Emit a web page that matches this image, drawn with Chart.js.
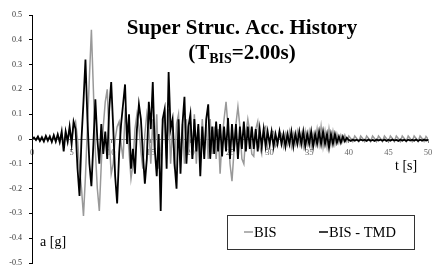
<!DOCTYPE html>
<html lang="en">
<head>
  <meta charset="UTF-8" />
  <title>Super Struc. Acc. History</title>
  <script src="https://cdn.jsdelivr.net/npm/chart.js"></script>
  <style>
    body { margin: 0; background: #fff; }
    .wrap { width: 434px; height: 267px; position: relative; }
  </style>
</head>
<body>
  <div class="wrap"><canvas id="accChart"></canvas></div>

<script>
  // sample spacing of the values below, in seconds
  const DT = 0.25;

  // BIS - TMD (black), one row = 2 s
  const bisTmd = [
    0, 0.006, -0.004, 0.01, -0.008, 0.006, -0.01, 0.012,
    -0.006, 0.01, -0.012, 0.015, -0.01, 0.018, -0.012, 0.03,
    -0.05, 0.03, -0.01, 0.05, -0.02, 0.07, 0.04, -0.12,
    -0.23, 0.0, 0.15, 0.32, 0.08, -0.1, -0.19, -0.02,
    0.16, 0.0, -0.1, 0.06, -0.06, 0.03, -0.08, 0.12,
    0.23, 0.05, -0.15, -0.26, -0.06, 0.06, 0.14, 0.22,
    -0.02, 0.1, -0.12, -0.04, -0.14, 0.04, 0.14, 0.08,
    -0.06, -0.18, -0.08, 0.15, 0.04, 0.23, -0.04, -0.15,
    0.02, -0.29, 0.08, 0.12, -0.12, 0.27, 0.04, 0.08,
    -0.1, -0.2, 0.08, -0.14, 0.06, 0.17, -0.1, 0.05,
    0.1, -0.08, 0.08, -0.05, 0.06, -0.15, 0.05, -0.08,
    0.08, 0.14, -0.08, 0.05, -0.06, 0.07, -0.05, 0.06,
    -0.07, 0.05, -0.05, 0.085, -0.08, 0.06, -0.05, 0.06,
    -0.08, 0.05, -0.04, 0.07, -0.05, 0.05, -0.04, 0.05,
    -0.04, 0.04, -0.05, 0.04, -0.03, 0.04, -0.03, 0.03,
    -0.02, 0.03, -0.03, 0.02, -0.02, 0.03, -0.02, 0.02,
    -0.03, 0.02, -0.02, 0.03, -0.03, 0.02, -0.02, 0.03,
    -0.02, 0.03, -0.03, 0.02, -0.02, 0.03, -0.03, 0.02,
    -0.02, 0.03, -0.02, 0.03, -0.02, 0.02, -0.035, 0.02,
    -0.02, 0.02, -0.015, 0.01, -0.015, 0.01, -0.01, 0.005,
    -0.004, -0.008, -0.002, -0.007, -0.003, -0.008, -0.002, -0.006,
    -0.003, -0.008, -0.002, -0.007, -0.004, -0.008, -0.002, -0.006,
    -0.003, -0.007, -0.002, -0.008, -0.003, -0.007, -0.002, -0.006,
    -0.004, -0.008, -0.002, -0.007, -0.003, -0.008, -0.003, -0.006,
    -0.003, -0.007, -0.002, -0.008, -0.003, -0.007, -0.002, -0.006,
    -0.004
  ];

  // BIS (grey), one row = 2 s
  const bis = [
    0, 0.005, -0.005, 0.008, -0.006, 0.01, -0.008, 0.01,
    -0.01, 0.012, -0.01, 0.015, -0.012, 0.02, -0.015, 0.02,
    -0.02, 0.03, -0.01, 0.04, 0.0, 0.05, 0.07, 0.0,
    -0.12, -0.2, -0.31, -0.15, 0.05, 0.25, 0.44, 0.2,
    -0.05, -0.2, -0.29, -0.1, 0.05, 0.15, 0.2, 0.0,
    -0.14, -0.1, 0.0, 0.05, 0.07, -0.02, -0.08, 0.1,
    0.05, -0.05, -0.16, -0.1, 0.04, 0.1, 0.05, -0.05,
    -0.12, 0.02, 0.1, 0.04, -0.1, 0.08, -0.06, 0.1,
    -0.12, -0.05, 0.06, 0.1, -0.08, 0.12, -0.1, 0.05,
    -0.12, 0.06, 0.1, -0.08, 0.06, -0.1, 0.08, -0.06,
    0.07, -0.08, 0.1, -0.1, 0.05, -0.06, 0.08, -0.05,
    0.06, -0.08, 0.08, -0.06, 0.05, -0.08, 0.04, -0.14,
    0.0, 0.08, 0.15, 0.05, -0.1, -0.17, -0.05, 0.06,
    0.13, 0.05, -0.08, -0.1, 0.02, 0.08, 0.03, -0.06,
    -0.07, 0.04, 0.07, -0.03, -0.06, 0.04, 0.05, -0.04,
    -0.04, 0.03, 0.03, -0.03, -0.02, 0.03, 0.02, -0.03,
    0.02, -0.02, 0.03, -0.03, 0.02, -0.02, 0.03, -0.02,
    0.02, -0.03, 0.03, -0.02, 0.03, -0.03, 0.02, -0.02,
    0.04, -0.02, 0.05, -0.03, 0.03, -0.03, 0.04, -0.02,
    0.03, -0.02, 0.02, -0.015, 0.015, -0.01, 0.015, -0.01,
    0.012, 0.002, -0.01, 0.012, 0.002, -0.01, 0.012, 0.002,
    -0.01, 0.012, 0.002, -0.01, 0.012, 0.002, -0.01, 0.012,
    0.002, -0.01, 0.012, 0.002, -0.01, 0.012, 0.002, -0.01,
    0.012, 0.002, -0.01, 0.012, 0.002, -0.01, 0.012, 0.002,
    -0.01, 0.012, 0.002, -0.01, 0.012, 0.002, -0.01, 0.01,
    0.0
  ];

  const seriesNames = ["BIS", "BIS - TMD"];
  const xTicks = [0, 5, 10, 15, 20, 25, 30, 35, 40, 45, 50];
  const yTicks = [-0.5, -0.4, -0.3, -0.2, -0.1, 0, 0.1, 0.2, 0.3, 0.4, 0.5];

  const toPoints = arr => arr.map((v, i) => ({ x: i * DT, y: v }));
  const SERIF = '"Liberation Serif", "DejaVu Serif", serif';

  // title, axis captions and the boxed legend
  const decorations = {
    id: "decorations",
    afterDraw(chart) {
      const ctx = chart.ctx;
      ctx.save();
      ctx.fillStyle = "#000";
      ctx.textBaseline = "alphabetic";

      ctx.font = "bold 21px " + SERIF;
      ctx.textAlign = "center";
      ctx.fillText("Super Struc. Acc. History", 242, 34);

      // second line with subscript
      const big = "bold 21px " + SERIF, small = "bold 14px " + SERIF;
      ctx.font = big;  const w1 = ctx.measureText("(T").width;
      const w3 = ctx.measureText("=2.00s)").width;
      ctx.font = small; const w2 = ctx.measureText("BIS").width;
      let x = 242 - (w1 + w2 + w3) / 2;
      ctx.textAlign = "left";
      ctx.font = big;   ctx.fillText("(T", x, 59); x += w1;
      ctx.font = small; ctx.fillText("BIS", x, 63); x += w2;
      ctx.font = big;   ctx.fillText("=2.00s)", x, 59);

      ctx.font = "14px " + SERIF;
      ctx.fillText("t [s]", 395, 170);
      ctx.fillText("a [g]", 40, 246);

      // legend
      ctx.fillStyle = "#fff";
      ctx.fillRect(227, 215, 187, 34);
      ctx.strokeStyle = "#333";
      ctx.lineWidth = 1;
      ctx.strokeRect(227.5, 215.5, 187, 34);
      const items = [
        { label: seriesNames[0], color: "#999", x: 244 },
        { label: seriesNames[1], color: "#000", x: 319 }
      ];
      ctx.font = "14.5px " + SERIF;
      ctx.fillStyle = "#000";
      items.forEach(it => {
        ctx.strokeStyle = it.color;
        ctx.lineWidth = 1.5;
        ctx.beginPath();
        ctx.moveTo(it.x, 232);
        ctx.lineTo(it.x + 9, 232);
        ctx.stroke();
        ctx.fillText(it.label, it.x + 10, 237);
      });
      ctx.restore();
    }
  };

  new Chart(document.getElementById("accChart"), {
    type: "line",
    data: {
      datasets: [
        {
          label: seriesNames[1],
          data: toPoints(bisTmd),
          borderColor: "#000",
          borderWidth: 1.8,
          order: 0
        },
        {
          label: seriesNames[0],
          data: toPoints(bis),
          borderColor: "#999",
          borderWidth: 1.5,
          order: 1
        }
      ]
    },
    options: {
      responsive: true,
      maintainAspectRatio: false,
      animation: false,
      layout: { padding: { top: 15, right: 6, bottom: 4, left: 0 } },
      elements: { point: { radius: 0 }, line: { tension: 0 } },
      plugins: { legend: { display: false }, tooltip: { enabled: false } },
      scales: {
        x: {
          type: "linear",
          position: { y: 0 },
          min: 0,
          max: 50,
          afterBuildTicks: s => { s.ticks = xTicks.map(v => ({ value: v })); },
          afterFit: s => { s.height = 0; s.paddingLeft = 0; s.paddingRight = 0; },
          ticks: { color: "#666", font: { family: SERIF, size: 8.5 }, padding: 6, maxRotation: 0 },
          grid: { drawOnChartArea: false, tickLength: 3, color: "#808080" },
          border: { color: "#808080", width: 1 }
        },
        y: {
          min: -0.5,
          max: 0.5,
          afterBuildTicks: s => { s.ticks = yTicks.map(v => ({ value: v })); },
          afterFit: s => { s.width = 32; s.paddingTop = 0; s.paddingBottom = 0; },
          ticks: {
            color: "#333",
            font: { family: SERIF, size: 8 },
            padding: 7,
            callback: v => String(Math.round(v * 10) / 10)
          },
          grid: { drawOnChartArea: false, tickLength: 3, color: "#000" },
          border: { color: "#000", width: 1 }
        }
      }
    },
    plugins: [decorations]
  });
</script>
</body>
</html>
